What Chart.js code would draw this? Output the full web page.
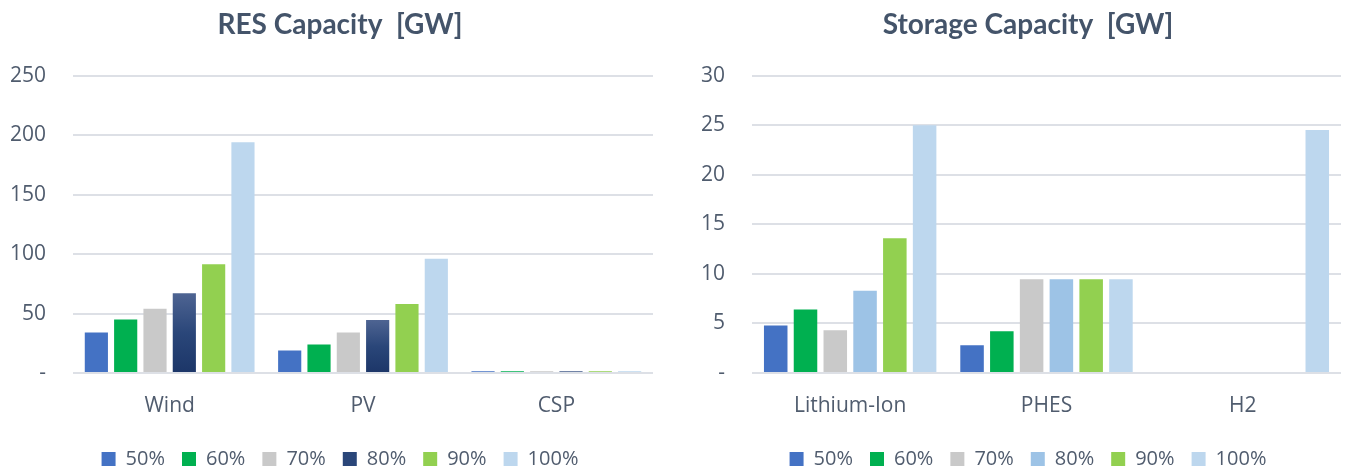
<!DOCTYPE html>
<html>
<head>
<meta charset="utf-8">
<script src="https://cdn.jsdelivr.net/npm/chart.js@4"></script>
<style>
    body { margin: 0; background: #fff; overflow: hidden; }
    .box { position: absolute; top: 0; height: 479px; }
    #leftBox { left: 0; width: 680px; }
    #rightBox { left: 700px; width: 656px; }
</style>
</head>
<body>
<div class="box" id="leftBox"><canvas id="resChart"></canvas></div>
<div class="box" id="rightBox"><canvas id="storageChart"></canvas></div>
<script>
const seriesLabels = ['50%', '60%', '70%', '80%', '90%', '100%'];

// RES capacity [GW]
const resCategories = ['Wind', 'PV', 'CSP'];
const res50 = [34, 19, 1.5];
const res60 = [45, 24, 1.5];
const res70 = [54, 34, 1.5];
const res80 = [67, 44.5, 1.5];
const res90 = [91.5, 58, 1.5];
const res100 = [194, 96, 1.5];
const resTicks = [0, 50, 100, 150, 200, 250];

// Storage capacity [GW]
const storageCategories = ['Lithium-Ion', 'PHES', 'H2'];
const st50 = [4.8, 2.8, 0];
const st60 = [6.4, 4.2, 0];
const st70 = [4.3, 9.45, 0];
const st80 = [8.3, 9.45, 0];
const st90 = [13.6, 9.45, 0];
const st100 = [25, 9.45, 24.5];
const storageTicks = [0, 5, 10, 15, 20, 25, 30];

const textColor = '#505c6e';
const titleColor = '#44546a';
const gridColor = '#dde0e6';

// navy bars get a light-to-dark gradient per bar, like the original
function navyGradient(ctx) {
    const chart = ctx.chart;
    if (!chart.chartArea || ctx.parsed === undefined) return '#1f3a6e';
    const yScale = chart.scales.y;
    const top = yScale.getPixelForValue(ctx.parsed.y);
    const bottom = yScale.getPixelForValue(0);
    if (!isFinite(top) || top === bottom) return '#1f3a6e';
    const g = chart.ctx.createLinearGradient(0, top, 0, bottom);
    g.addColorStop(0, '#4e6492');
    g.addColorStop(0.5, '#2a4679');
    g.addColorStop(1, '#1c3668');
    return g;
}

const resColors = ['#4472c4', '#00b050', '#c9c9c9', navyGradient, '#92d050', '#bdd7ee'];
const storageColors = ['#4472c4', '#00b050', '#c9c9c9', '#9dc3e6', '#92d050', '#bdd7ee'];

function makeChart(canvasId, title, categories, series, colors, ticks, yWidth, spacer) {
    const datasets = series.map((values, i) => ({
        label: seriesLabels[i],
        data: values,
        backgroundColor: colors[i],
        borderWidth: 0,
        categoryPercentage: 0.91,
        barPercentage: 0.79
    }));

    return new Chart(document.getElementById(canvasId), {
        type: 'bar',
        data: { labels: categories, datasets: datasets },
        options: {
            responsive: true,
            maintainAspectRatio: false,
            animation: false,
            layout: { padding: 0 },
            plugins: {
                title: {
                    display: true,
                    text: title,
                    color: titleColor,
                    font: { family: 'Lato', size: 28, weight: 'bold' },
                    padding: { top: 8, bottom: 34 }
                },
                legend: {
                    position: 'bottom',
                    labels: {
                        color: textColor,
                        font: { family: 'Open Sans', size: 20 },
                        boxWidth: 14,
                        boxHeight: 14,
                        padding: 17,
                        generateLabels: chart => chart.data.datasets.map((ds, i) => ({
                            text: ds.label,
                            fillStyle: typeof colors[i] === 'function' ? '#2a4679' : colors[i],
                            strokeStyle: 'rgba(0,0,0,0)',
                            lineWidth: 0,
                            fontColor: textColor,
                            datasetIndex: i
                        }))
                    }
                },
                tooltip: { enabled: false }
            },
            scales: {
                x: {
                    grid: { display: false, drawTicks: false },
                    border: { display: false },
                    afterFit: scale => { scale.height = 59; },
                    ticks: {
                        color: textColor,
                        font: { family: 'Open Sans', size: 21 },
                        padding: 20
                    }
                },
                y: {
                    min: ticks[0],
                    max: ticks[ticks.length - 1],
                    afterBuildTicks: scale => { scale.ticks = ticks.map(v => ({ value: v })); },
                    afterFit: scale => { scale.width = yWidth; },
                    grid: { color: gridColor, lineWidth: 2, drawTicks: false },
                    border: { display: false },
                    ticks: {
                        color: textColor,
                        font: { family: 'Open Sans', size: 21 },
                        padding: 27,
                        callback: v => v === 0 ? '-' : v
                    }
                },
                // empty right axis, only keeps the plot clear of the right edge
                spacer: {
                    position: 'right',
                    grid: { display: false },
                    border: { display: false },
                    ticks: { display: false },
                    afterFit: scale => { scale.width = spacer; }
                }
            }
        }
    });
}

makeChart('resChart', 'RES Capacity  [GW]', resCategories,
    [res50, res60, res70, res80, res90, res100], resColors, resTicks, 73, 27);
makeChart('storageChart', 'Storage Capacity  [GW]', storageCategories,
    [st50, st60, st70, st80, st90, st100], storageColors, storageTicks, 52, 15);
</script>
</body>
</html>
